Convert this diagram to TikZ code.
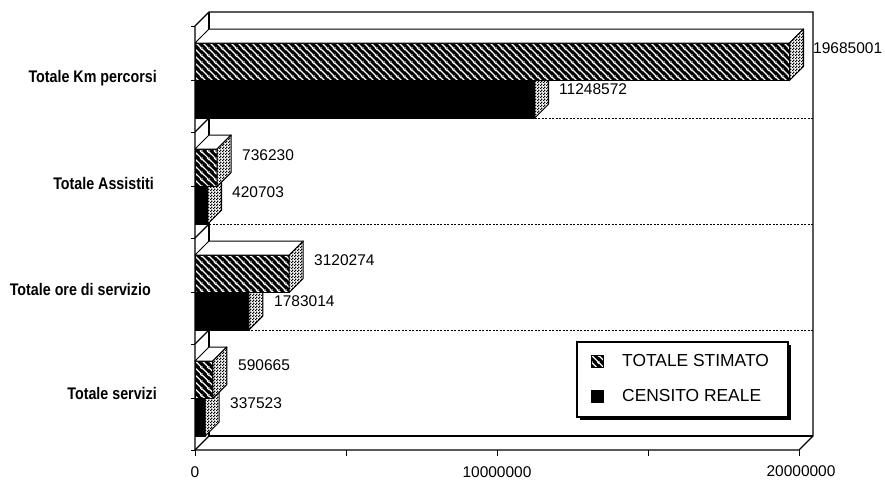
\documentclass[tikz,border=0pt]{standalone}
\usepackage{fontspec}
\setmainfont{Liberation Sans}
\newfontfamily\catfont[FakeStretch=0.85]{Liberation Sans}
\usetikzlibrary{patterns.meta}

\tikzdeclarepattern{
  name=bwstripes,
  type=uncolored,
  bounding box={(0pt,0pt) and (6.5pt,6.5pt)},
  tile size={(6.5pt,6.5pt)},
  code={
    \draw[line width=1.3pt] (-1pt,7.5pt) -- (7.5pt,-1pt)
      (-1pt,1pt) -- (1pt,-1pt)
      (5.5pt,7.5pt) -- (7.5pt,5.5pt);
  }
}
\tikzdeclarepattern{
  name=checker,
  type=uncolored,
  bounding box={(0pt,0pt) and (3pt,3pt)},
  tile size={(3pt,3pt)},
  code={
    \fill (0pt,0pt) rectangle (1.6pt,1.6pt) (1.4pt,1.4pt) rectangle (3pt,3pt);
  }
}

\tikzset{
  outline/.style={draw=black, line width=1pt, line join=round},
  hatchface/.style={outline, preaction={fill=black}, pattern=bwstripes, pattern color=white},
  solidface/.style={outline, fill=black},
  topface/.style={outline, fill=white},
  sideface/.style={outline, preaction={fill=white}, pattern=checker, pattern color=black},
  wall/.style={draw=black, line width=1.1pt},
  gridln/.style={draw=black, line width=0.9pt, dash pattern=on 2pt off 1.5pt},
  tickln/.style={draw=black, line width=1pt},
  vallabel/.style={anchor=west, font=\fontsize{15.5}{18}\selectfont, inner sep=0pt},
  axlabel/.style={anchor=center, font=\fontsize{15.5}{18}\selectfont, inner sep=0pt},
  catlabel/.style={anchor=east, font=\catfont\bfseries\fontsize{16.8}{19}\selectfont, inner sep=0pt},
  leglabel/.style={anchor=west, font=\fontsize{17.4}{20}\selectfont, inner sep=0pt},
}

% #1 = front end x, #2 = top y, #3 = bottom y, #4 = front style
\newcommand\hbarbox[4]{%
  \path[#4] (195,#2) rectangle (#1,#3);
  \path[topface] (195,#2) -- (#1,#2) -- ({#1+14},{#2-14}) -- (209,{#2-14}) -- cycle;
  \path[sideface] (#1,#2) -- ({#1+14},{#2-14}) -- ({#1+14},{#3-14}) -- (#1,#3) -- cycle;
}

\begin{document}
\begin{tikzpicture}[x=1pt,y=-1pt]
\useasboundingbox (0,0) rectangle (885,479);
\fill[white] (0,0) rectangle (885,479);

% walls
\draw[wall] (195,450) -- (195,26) -- (209,12) -- (813,12) -- (813,436) -- (799,450) -- cycle;
\draw[wall] (209,12) -- (209,436) -- (813,436);
\draw[wall] (195,450) -- (209,436);
\foreach \b in {118,224,330} {
  \draw[wall] (195,\b+14) -- (209,\b);
  \draw[gridln] (209,\b) -- (813,\b);
}

% left ticks
\foreach \y in {26,80.5,132,186.5,238,292.5,344,398.5,450}
  \draw[tickln] (191,\y) -- (195,\y);
% bottom ticks
\foreach \x in {195,346,497,648,799}
  \draw[tickln] (\x,450) -- (\x,456);

% bars: Totale Km percorsi (T=26)
\hbarbox{534.7}{80.5}{118}{solidface}
\hbarbox{789.5}{43}{80.5}{hatchface}
% Totale Assistiti (T=132)
\hbarbox{207.7}{186.5}{224}{solidface}
\hbarbox{217.2}{149}{186.5}{hatchface}
% Totale ore di servizio (T=238)
\hbarbox{248.8}{292.5}{330}{solidface}
\hbarbox{289.2}{255}{292.5}{hatchface}
% Totale servizi (T=344)
\hbarbox{205.2}{398.5}{436}{solidface}
\hbarbox{212.8}{361}{398.5}{hatchface}

% value labels
\node[vallabel] (v1) at (813,48) {19685001};
\node[vallabel] (v2) at (559,89) {11248572};
\node[vallabel] (v3) at (242,155) {736230};
\node[vallabel] (v4) at (232,192) {420703};
\node[vallabel] (v5) at (314,260) {3120274};
\node[vallabel] (v6) at (274,301) {1783014};
\node[vallabel] (v7) at (238,365) {590665};
\node[vallabel] (v8) at (230,403) {337523};

% category labels
\node[catlabel] (c1) at (157,78) {Totale Km percorsi};
\node[catlabel] (c2) at (154,183) {Totale Assistiti};
\node[catlabel] (c3) at (151,289) {Totale ore di servizio};
\node[catlabel] (c4) at (157,393) {Totale servizi};

% axis labels
\node[axlabel] (a0) at (195,472) {0};
\node[axlabel] (a1) at (497,472) {10000000};
\node[axlabel] (a2) at (801,471) {20000000};

% legend
\fill[black] (580,345) rectangle (791,420);
\draw[fill=white, line width=1.1pt] (577,342) rectangle (788,417);
\path[hatchface] (591,355) rectangle (603,367);
\path[solidface] (591,390) rectangle (603,402);
\node[leglabel] (l1) at (622,361) {TOTALE STIMATO};
\node[leglabel] (l2) at (622,396) {CENSITO REALE};
\end{tikzpicture}
\end{document}
